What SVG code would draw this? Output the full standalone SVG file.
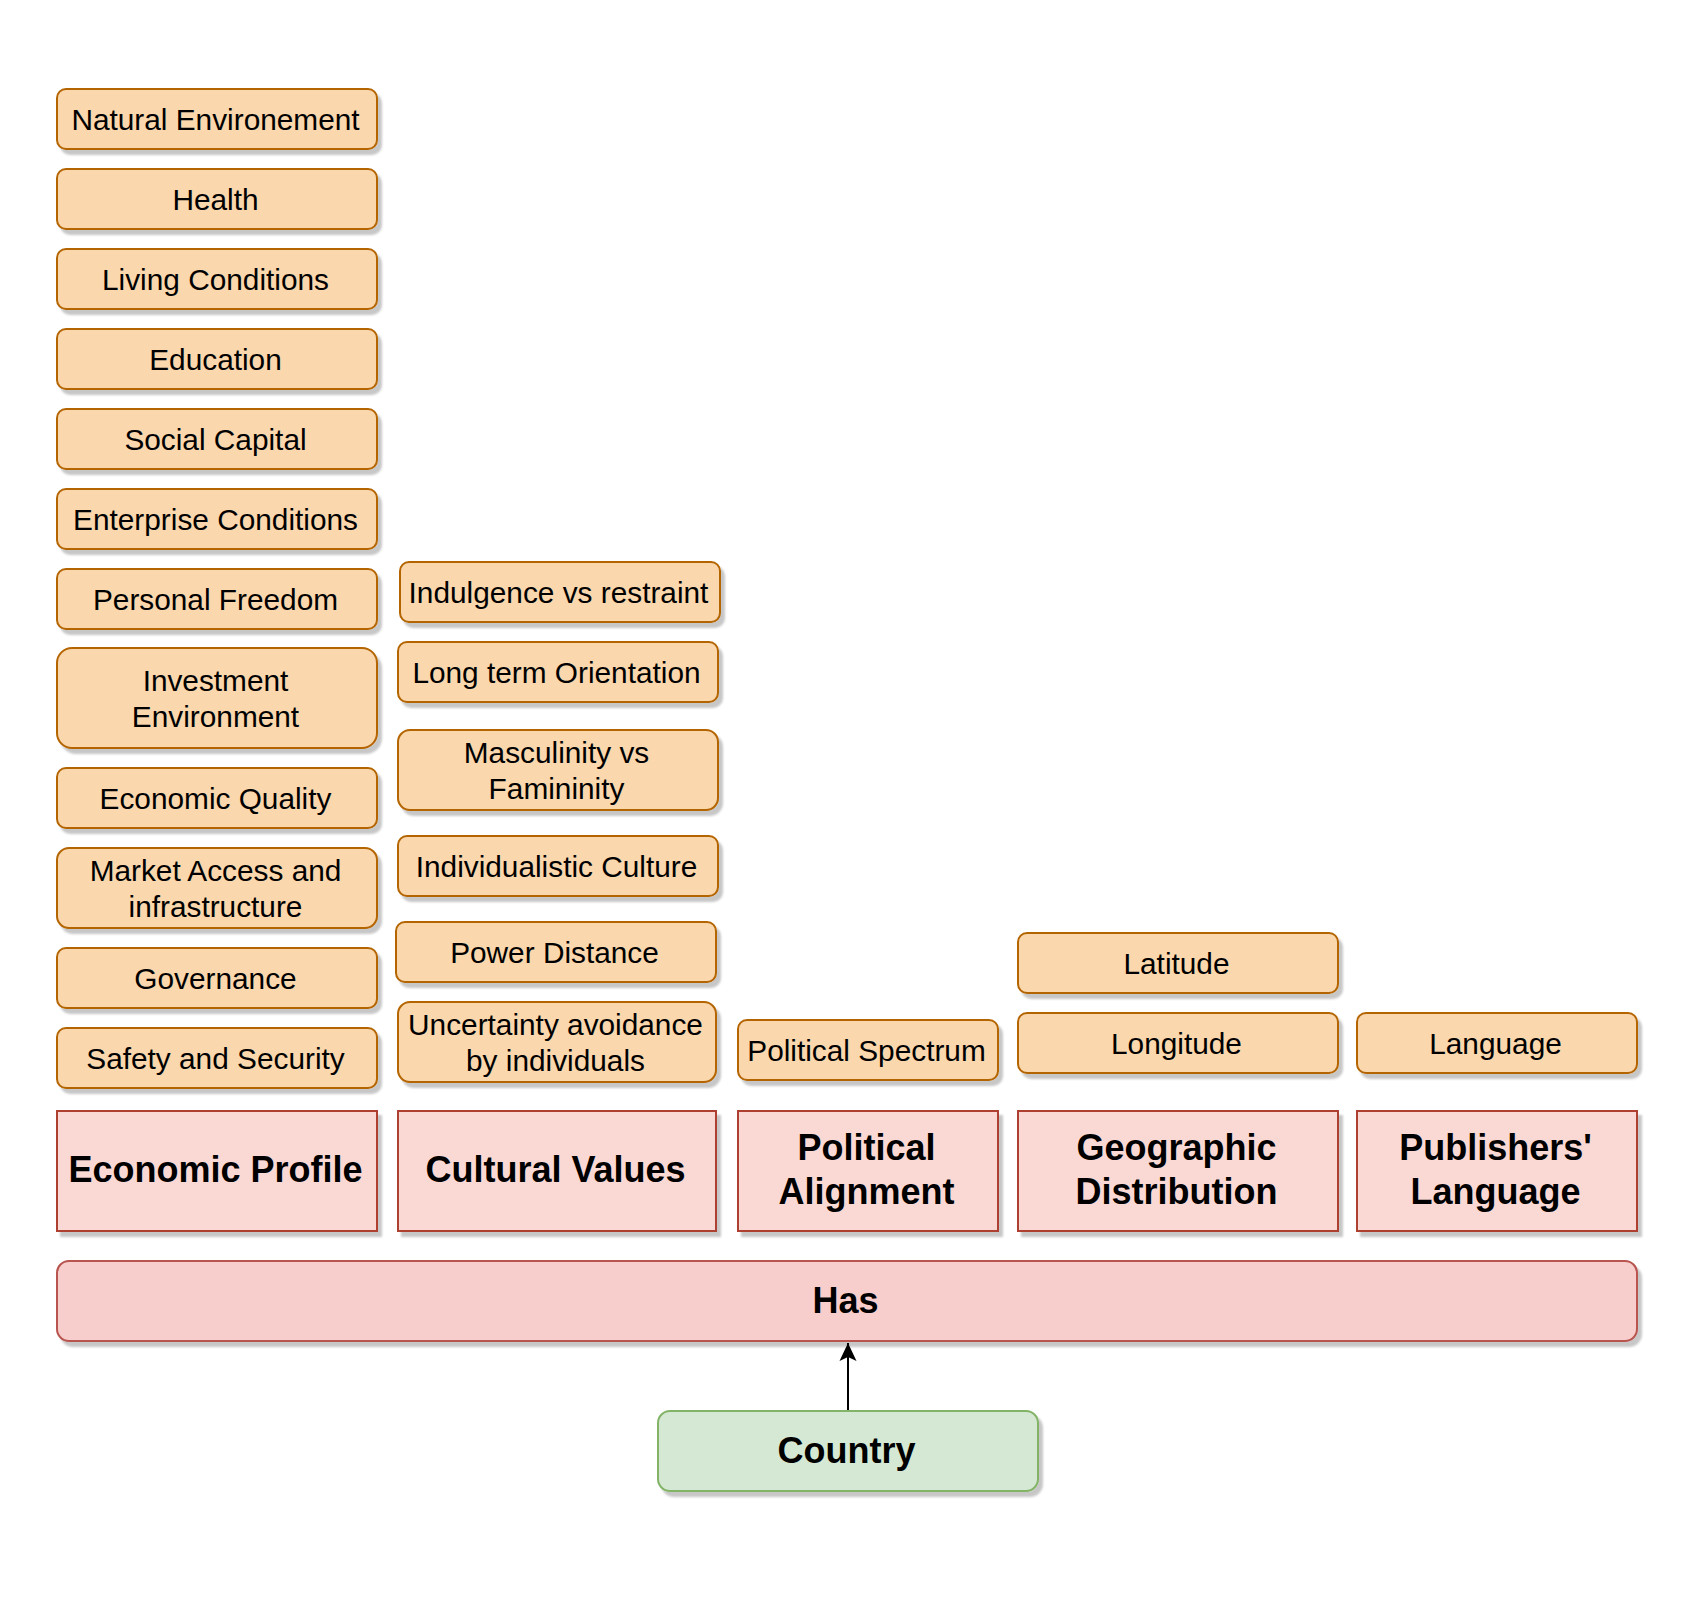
<svg xmlns="http://www.w3.org/2000/svg" width="1700" height="1606" viewBox="0 0 1700 1606">
<defs>
<filter id="sh" x="-5%" y="-10%" width="115%" height="135%">
<feOffset in="SourceAlpha" dx="4" dy="5" result="o"/>
<feGaussianBlur in="o" stdDeviation="0.8" result="b"/>
<feFlood flood-color="#000" flood-opacity="0.22"/>
<feComposite in2="b" operator="in" result="s"/>
<feMerge><feMergeNode in="s"/><feMergeNode in="SourceGraphic"/></feMerge>
</filter>
<marker id="arr" viewBox="0 0 20 20" refX="18" refY="10" markerWidth="20" markerHeight="20" markerUnits="userSpaceOnUse" orient="auto">
<path d="M18,10 L0,1.5 L4,10 L0,18.5 Z" fill="#000"/>
</marker>
</defs>
<style>
.att{fill:#fad7ac;stroke:#b46504;stroke-width:2;filter:url(#sh)}
.cat{fill:#fad9d5;stroke:#ae4132;stroke-width:2;filter:url(#sh)}
.has{fill:#f8cecc;stroke:#b85450;stroke-width:2;filter:url(#sh)}
.cty{fill:#d5e8d4;stroke:#82b366;stroke-width:2;filter:url(#sh)}
text{transform:translate(-1.5px,0)}
.t{font-family:"Liberation Sans",Arial,sans-serif;font-size:29.8px;fill:#000;text-anchor:middle}
.b{font-family:"Liberation Sans",Arial,sans-serif;font-size:36px;font-weight:bold;fill:#000;text-anchor:middle}
</style>
<rect width="1700" height="1606" fill="#fff"/>

<g id="connectors">
<line x1="848" y1="1411" x2="848" y2="1343" stroke="#000" stroke-width="2" marker-end="url(#arr)"/>
</g>

<g id="natural-environement"><rect class="att" x="57" y="89" width="320" height="60" rx="9"/><text class="t" x="217" y="130">Natural Environement</text></g>
<g id="health"><rect class="att" x="57" y="169" width="320" height="60" rx="9"/><text class="t" x="217" y="210">Health</text></g>
<g id="living-conditions"><rect class="att" x="57" y="249" width="320" height="60" rx="9"/><text class="t" x="217" y="290">Living Conditions</text></g>
<g id="education"><rect class="att" x="57" y="329" width="320" height="60" rx="9"/><text class="t" x="217" y="370">Education</text></g>
<g id="social-capital"><rect class="att" x="57" y="409" width="320" height="60" rx="9"/><text class="t" x="217" y="450">Social Capital</text></g>
<g id="enterprise-conditions"><rect class="att" x="57" y="489" width="320" height="60" rx="9"/><text class="t" x="217" y="530">Enterprise Conditions</text></g>
<g id="personal-freedom"><rect class="att" x="57" y="569" width="320" height="60" rx="9"/><text class="t" x="217" y="610">Personal Freedom</text></g>
<g id="investment-environment"><rect class="att" x="57" y="648" width="320" height="100" rx="15"/><text class="t" x="217" y="690.5">Investment</text><text class="t" x="217" y="726.5">Environment</text></g>
<g id="economic-quality"><rect class="att" x="57" y="768" width="320" height="60" rx="9"/><text class="t" x="217" y="809">Economic Quality</text></g>
<g id="market-access"><rect class="att" x="57" y="848" width="320" height="80" rx="12"/><text class="t" x="217" y="880.5">Market Access and</text><text class="t" x="217" y="916.5">infrastructure</text></g>
<g id="governance"><rect class="att" x="57" y="948" width="320" height="60" rx="9"/><text class="t" x="217" y="989">Governance</text></g>
<g id="safety-security"><rect class="att" x="57" y="1028" width="320" height="60" rx="9"/><text class="t" x="217" y="1069">Safety and Security</text></g>

<g id="indulgence"><rect class="att" x="400" y="562" width="320" height="60" rx="9"/><text class="t" x="560" y="603">Indulgence vs restraint</text></g>
<g id="long-term"><rect class="att" x="398" y="642" width="320" height="60" rx="9"/><text class="t" x="558" y="683">Long term Orientation</text></g>
<g id="masculinity"><rect class="att" x="398" y="730" width="320" height="80" rx="12"/><text class="t" x="558" y="762.5">Masculinity vs</text><text class="t" x="558" y="798.5">Famininity</text></g>
<g id="individualistic"><rect class="att" x="398" y="836" width="320" height="60" rx="9"/><text class="t" x="558" y="877">Individualistic Culture</text></g>
<g id="power-distance"><rect class="att" x="396" y="922" width="320" height="60" rx="9"/><text class="t" x="556" y="963">Power Distance</text></g>
<g id="uncertainty"><rect class="att" x="398" y="1002" width="318" height="80" rx="12"/><text class="t" x="557" y="1034.5">Uncertainty avoidance</text><text class="t" x="557" y="1070.5">by individuals</text></g>

<g id="political-spectrum"><rect class="att" x="738" y="1020" width="260" height="60" rx="9"/><text class="t" x="868" y="1061">Political Spectrum</text></g>

<g id="latitude"><rect class="att" x="1018" y="933" width="320" height="60" rx="9"/><text class="t" x="1178" y="974">Latitude</text></g>
<g id="longitude"><rect class="att" x="1018" y="1013" width="320" height="60" rx="9"/><text class="t" x="1178" y="1054">Longitude</text></g>

<g id="language"><rect class="att" x="1357" y="1013" width="280" height="60" rx="9"/><text class="t" x="1497" y="1054">Language</text></g>

<g id="economic-profile"><rect class="cat" x="57" y="1111" width="320" height="120"/><text class="b" x="217" y="1182">Economic Profile</text></g>
<g id="cultural-values"><rect class="cat" x="398" y="1111" width="318" height="120"/><text class="b" x="557" y="1182">Cultural Values</text></g>
<g id="political-alignment"><rect class="cat" x="738" y="1111" width="260" height="120"/><text class="b" x="868" y="1160">Political</text><text class="b" x="868" y="1204">Alignment</text></g>
<g id="geographic-distribution"><rect class="cat" x="1018" y="1111" width="320" height="120"/><text class="b" x="1178" y="1160">Geographic</text><text class="b" x="1178" y="1204">Distribution</text></g>
<g id="publishers-language"><rect class="cat" x="1357" y="1111" width="280" height="120"/><text class="b" x="1497" y="1160">Publishers'</text><text class="b" x="1497" y="1204">Language</text></g>

<g id="has"><rect class="has" x="57" y="1261" width="1580" height="80" rx="12"/><text class="b" x="847" y="1313">Has</text></g>

<g id="country"><rect class="cty" x="658" y="1411" width="380" height="80" rx="12"/><text class="b" x="848" y="1463">Country</text></g>
</svg>
